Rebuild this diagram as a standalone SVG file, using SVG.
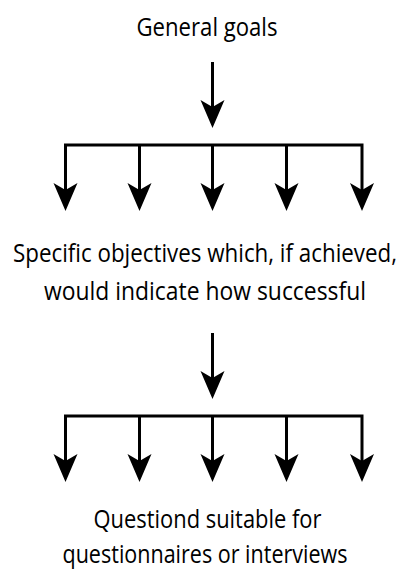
<svg xmlns="http://www.w3.org/2000/svg" xmlns:xlink="http://www.w3.org/1999/xlink" width="405" height="574" viewBox="0 0 405 574">
<style>
  .lbl { font-family: "Open Sans", "Noto Sans", "Liberation Sans", sans-serif; font-size: 25px; fill: #000; text-anchor: middle; }
  .ln { fill: none; stroke: #000; stroke-width: 3; stroke-linejoin: miter; }
  .head { fill: #000; stroke: none; }
</style>
<defs>
  <polygon id="ah" class="head" points="0,0 -12,-28 0,-21 12,-28"/>
</defs>
<rect width="405" height="574" fill="#fff"/>
<g id="general-goals">
  <text class="lbl" x="207" y="35.5" textLength="141" lengthAdjust="spacingAndGlyphs">General goals</text>
</g>
<g id="specific-objectives">
  <text class="lbl" x="205" y="261.5" textLength="384" lengthAdjust="spacingAndGlyphs">Specific objectives which, if achieved,</text>
  <text class="lbl" x="205" y="300" textLength="322" lengthAdjust="spacingAndGlyphs">would indicate how successful</text>
</g>
<g id="questions">
  <text class="lbl" x="207.5" y="528" textLength="228" lengthAdjust="spacingAndGlyphs">Questiond suitable for</text>
  <text class="lbl" x="205" y="563" textLength="285" lengthAdjust="spacingAndGlyphs">questionnaires or interviews</text>
</g>
<g id="connectors">
  <g id="tree1">
    <line class="ln" x1="212.5" y1="62" x2="212.5" y2="110"/>
    <use xlink:href="#ah" x="212.5" y="128"/>
    <path class="ln" d="M65.5 192 V145 H362 V192"/>
    <line class="ln" x1="139.5" y1="145" x2="139.5" y2="192"/>
    <line class="ln" x1="212.5" y1="145" x2="212.5" y2="192"/>
    <line class="ln" x1="286.5" y1="145" x2="286.5" y2="192"/>
    <use xlink:href="#ah" x="65.5" y="211"/>
    <use xlink:href="#ah" x="139.5" y="211"/>
    <use xlink:href="#ah" x="212.5" y="211"/>
    <use xlink:href="#ah" x="286.5" y="211"/>
    <use xlink:href="#ah" x="362" y="211"/>
  </g>
  <g id="tree2" transform="translate(0,271)">
    <line class="ln" x1="212.5" y1="62" x2="212.5" y2="110"/>
    <use xlink:href="#ah" x="212.5" y="128"/>
    <path class="ln" d="M65.5 192 V145 H362 V192"/>
    <line class="ln" x1="139.5" y1="145" x2="139.5" y2="192"/>
    <line class="ln" x1="212.5" y1="145" x2="212.5" y2="192"/>
    <line class="ln" x1="286.5" y1="145" x2="286.5" y2="192"/>
    <use xlink:href="#ah" x="65.5" y="211"/>
    <use xlink:href="#ah" x="139.5" y="211"/>
    <use xlink:href="#ah" x="212.5" y="211"/>
    <use xlink:href="#ah" x="286.5" y="211"/>
    <use xlink:href="#ah" x="362" y="211"/>
  </g>
</g>
</svg>
